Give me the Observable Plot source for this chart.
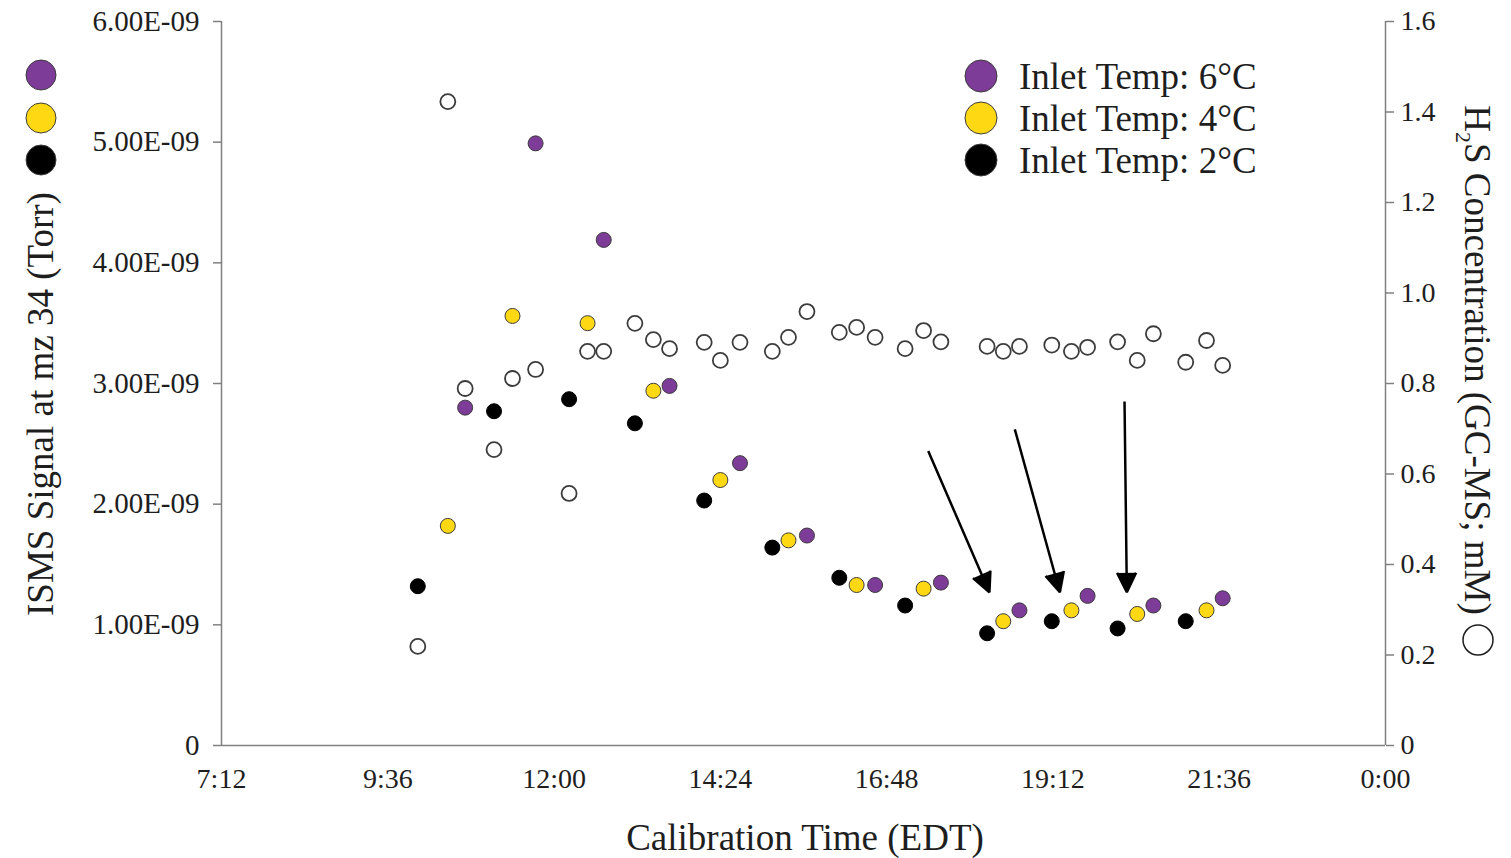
<!DOCTYPE html>
<html>
<head>
<meta charset="utf-8">
<script src="https://cdn.jsdelivr.net/npm/d3@7"></script>
<script src="https://cdn.jsdelivr.net/npm/@observablehq/plot@0.6"></script>
<style>
  html, body { margin: 0; padding: 0; background: #fff; }
  #chart svg { display: block; }
</style>
</head>
<body>
<div id="chart"></div>
<script>
// Calibration runs (EDT), cycling through the three inlet temperatures
const times = [
  "10:02", "10:28", "10:43", "11:08", "11:24", "11:44",
  "12:13", "12:29", "12:43", "13:10", "13:26", "13:40",
  "14:10", "14:24", "14:41", "15:09", "15:23", "15:39",
  "16:07", "16:22", "16:38", "17:04", "17:20", "17:35",
  "18:15", "18:29", "18:43", "19:11", "19:28", "19:42",
  "20:08", "20:25", "20:39", "21:07", "21:25", "21:39"
];
const inletTemp = [
  2, 4, 6, 2, 4, 6,
  2, 4, 6, 2, 4, 6,
  2, 4, 6, 2, 4, 6,
  2, 4, 6, 2, 4, 6,
  2, 4, 6, 2, 4, 6,
  2, 4, 6, 2, 4, 6
];
// ISMS signal at m/z 34 (Torr)
const ismsSignal = [
  1.32e-9, 1.82e-9, 2.80e-9, 2.77e-9, 3.56e-9, 4.99e-9,
  2.87e-9, 3.50e-9, 4.19e-9, 2.67e-9, 2.94e-9, 2.98e-9,
  2.03e-9, 2.20e-9, 2.34e-9, 1.64e-9, 1.70e-9, 1.74e-9,
  1.39e-9, 1.33e-9, 1.33e-9, 1.16e-9, 1.30e-9, 1.35e-9,
  0.93e-9, 1.03e-9, 1.12e-9, 1.03e-9, 1.12e-9, 1.24e-9,
  0.97e-9, 1.09e-9, 1.16e-9, 1.03e-9, 1.12e-9, 1.22e-9
];
// H2S concentration by GC-MS (mM)
const h2sConc = [
  0.219, 1.423, 0.789, 0.654, 0.811, 0.831,
  0.557, 0.871, 0.871, 0.933, 0.897, 0.877,
  0.891, 0.851, 0.891, 0.871, 0.902, 0.959,
  0.913, 0.924, 0.902, 0.877, 0.917, 0.892,
  0.882, 0.871, 0.882, 0.885, 0.871, 0.880,
  0.892, 0.851, 0.910, 0.847, 0.895, 0.840
];

const tempLevels = [6, 4, 2];
const tempColors = ["#7d3c98", "#ffd814", "#000000"];
const tempLabels = ["Inlet Temp: 6\u00b0C", "Inlet Temp: 4\u00b0C", "Inlet Temp: 2\u00b0C"];

const xTicks = [7.2, 9.6, 12, 14.4, 16.8, 19.2, 21.6, 24];
const xTickLabels = ["7:12", "9:36", "12:00", "14:24", "16:48", "19:12", "21:36", "0:00"];
const leftTicks = [0, 1e-9, 2e-9, 3e-9, 4e-9, 5e-9, 6e-9];
const rightTicks = [0, 0.2, 0.4, 0.6, 0.8, 1.0, 1.2, 1.4, 1.6];

// Arrow annotations (time, signal)
const arrowFrom = [["17:24", 2.44e-9], ["18:39", 2.62e-9], ["20:14", 2.85e-9]];
const arrowTo = [["18:17", 1.27e-9], ["19:18", 1.27e-9], ["20:16", 1.27e-9]];

const font = "'Liberation Serif', 'Times New Roman', serif";
const textColor = "#1e1e1e";
const axisColor = "#808080";

const toHours = (t) => { const [h, m] = t.split(":").map(Number); return h + m / 60; };
const rows = times.map((t, i) => ({hour: toHours(t), temp: inletTemp[i], signal: ismsSignal[i], h2s: h2sConc[i]}));
const arrowRows = arrowFrom.map((a, i) => ({x1: toHours(a[0]), y1: a[1], x2: toHours(arrowTo[i][0]), y2: arrowTo[i][1]}));

// right axis (mM) shares the left y scale through a fixed ratio
const yMax = 6e-9, rMax = 1.6;
const ratio = yMax / rMax;

const sciFmt = (d) => {
  if (d === 0) return "0";
  const [m, e] = d.toExponential(2).split("e");
  const n = Math.abs(+e);
  return m + "E" + (+e < 0 ? "-" : "+") + String(n).padStart(2, "0");
};
const rightFmt = (d) => {
  const v = d / ratio;
  return Math.abs(v) < 1e-9 ? "0" : v.toFixed(1);
};

const W = 1511, H = 858;
const tickFont = 28;
const titleFont = 37;

const chart = Plot.plot({
  width: W,
  height: H,
  marginLeft: 221,
  marginRight: 126,
  marginTop: 21,
  marginBottom: 113,
  style: {fontFamily: font, fontSize: tickFont + "px", color: textColor, background: "white"},
  x: {domain: [7.2, 24]},
  y: {domain: [0, yMax]},
  color: {domain: tempLevels, range: tempColors},
  marks: [
    Plot.axisX(xTicks, {tickSize: 0, tickPadding: 23, tickFormat: (d) => xTickLabels[xTicks.indexOf(d)], label: null, fill: textColor, fontSize: tickFont}),
    Plot.axisY(leftTicks, {anchor: "left", tickSize: 8, tickPadding: 14, tickFormat: sciFmt, label: null, stroke: axisColor, strokeWidth: 1.5, fill: textColor, fontSize: 29}),
    Plot.axisY(rightTicks.map((v) => v * ratio), {anchor: "right", tickSize: 8, tickPadding: 7, tickFormat: rightFmt, label: null, stroke: axisColor, strokeWidth: 1.5, fill: textColor, fontSize: tickFont}),
    Plot.ruleX([7.2, 24], {stroke: axisColor, strokeWidth: 1.5}),
    Plot.ruleY([0], {stroke: axisColor, strokeWidth: 1.5}),
    Plot.dot(rows, {x: "hour", y: (d) => d.h2s * ratio, r: 7.5, fill: "white", stroke: "#3c3c3c", strokeWidth: 1.8}),
    Plot.dot(rows, {x: "hour", y: "signal", r: 7.5, fill: "temp", stroke: (d) => d.temp === 2 ? "#000000" : "#3c3c3c", strokeWidth: 1}),
    Plot.arrow(arrowRows, {x1: "x1", y1: "y1", x2: "x2", y2: "y2", stroke: "black", fill: "black", strokeWidth: 2.5, headLength: 13, headAngle: 52, strokeLinecap: "butt"})
  ]
});
document.getElementById("chart").appendChild(chart);

const svg = d3.select(chart);

// left axis title with its series markers
const gl = svg.append("g").attr("transform", "translate(40,404) rotate(-90)");
gl.append("text")
  .attr("text-anchor", "middle").attr("dy", "0.35em")
  .attr("font-family", font).attr("font-size", titleFont).attr("fill", textColor)
  .text("ISMS Signal at mz 34 (Torr)");
[75, 118, 160].forEach((cy, i) => {
  svg.append("circle").attr("cx", 41).attr("cy", cy).attr("r", 15)
    .attr("fill", tempColors[i]).attr("stroke", "#3c3c3c").attr("stroke-width", 1);
});

// right axis title
const gr = svg.append("g").attr("transform", "translate(1478,360) rotate(90)");
const rt = gr.append("text")
  .attr("text-anchor", "middle").attr("dy", "0.35em")
  .attr("font-family", font).attr("font-size", titleFont).attr("fill", textColor);
rt.append("tspan").text("H");
rt.append("tspan").attr("font-size", 22).attr("dy", 9).text("2");
rt.append("tspan").attr("dy", -9).text("S Concentration (GC-MS; mM)");
svg.append("circle").attr("cx", 1478).attr("cy", 640).attr("r", 15)
  .attr("fill", "none").attr("stroke", textColor).attr("stroke-width", 1.5);

// x axis title
svg.append("text")
  .attr("x", 805).attr("y", 850).attr("text-anchor", "middle")
  .attr("font-family", font).attr("font-size", titleFont).attr("fill", textColor)
  .text("Calibration Time (EDT)");

// legend
const lg = svg.append("g");
tempLabels.forEach((lab, i) => {
  const cy = 76 + i * 42;
  lg.append("circle").attr("cx", 981).attr("cy", cy).attr("r", 16)
    .attr("fill", tempColors[i]).attr("stroke", "#3c3c3c").attr("stroke-width", 1);
  lg.append("text").attr("x", 1019).attr("y", cy).attr("dy", "0.35em")
    .attr("text-anchor", "start")
    .attr("font-family", font).attr("font-size", titleFont).attr("fill", textColor)
    .text(lab);
});
</script>
</body>
</html>
